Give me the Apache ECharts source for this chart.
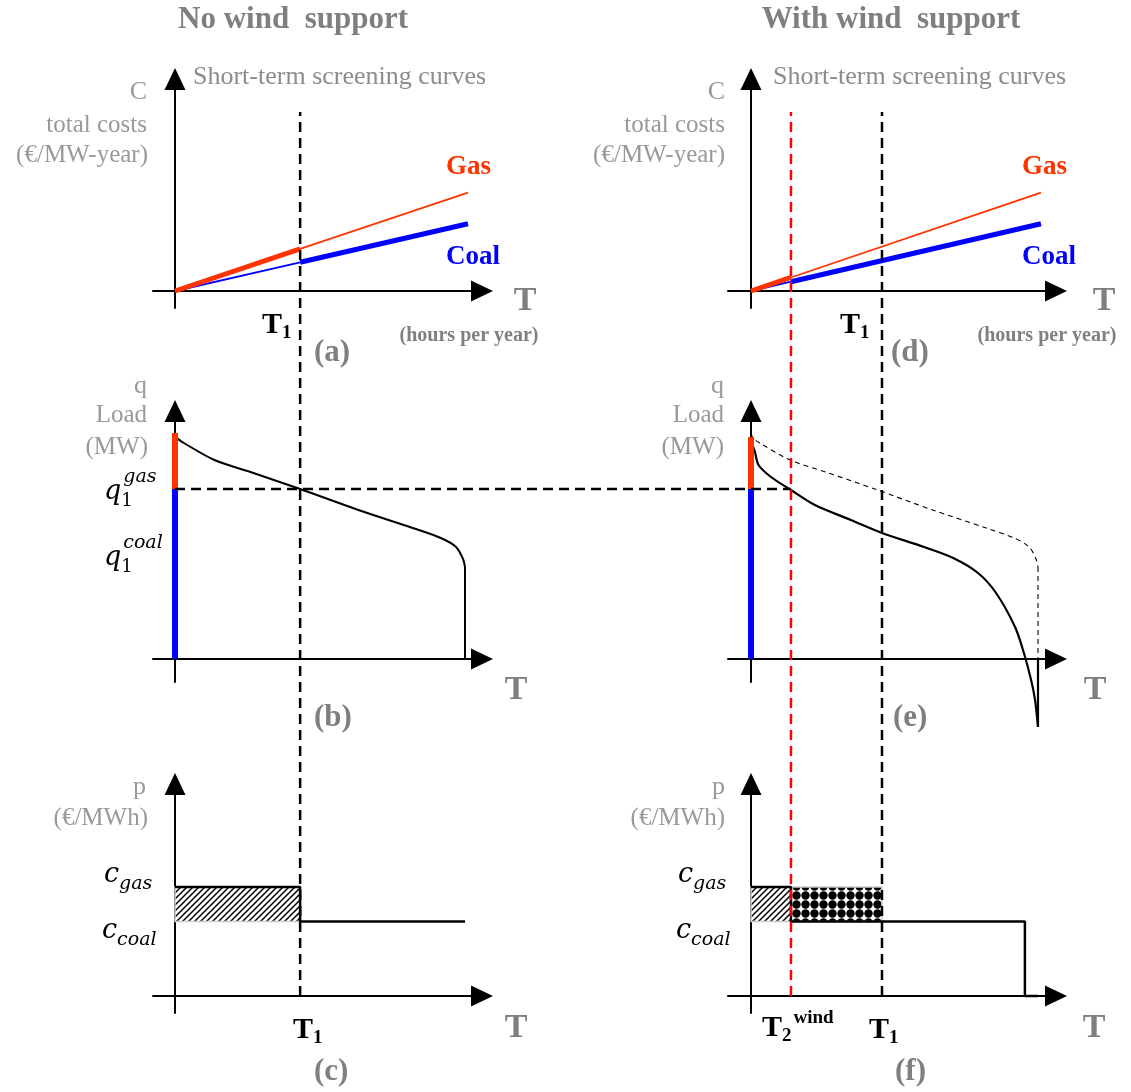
<!DOCTYPE html>
<html>
<head>
<meta charset="utf-8">
<script src="https://cdn.jsdelivr.net/npm/echarts@6/dist/echarts.min.js"></script>
<style>
  html, body { margin: 0; padding: 0; background: #fff; }
  #chart { width: 1131px; height: 1092px; }
</style>
</head>
<body>
<div id="chart"></div>
<script>
// ---------- values ----------
var hoursPerYear = 8760;
var costGas = 60, costCoal = 41;                 // €/MWh
var T1_noWind = 3780, T1_wind = 3998, T2_wind = 1220; // hours
var q1Gas = 8500;                                 // MW
var peakLoadB = 11300, peakLoadE = 11100;

// screening curves, k€/MW-year
var screenHoursA = [0, 3780, 8850];
var gasTotalA = [0, 227, 531];
var coalTotalA = [0, 155, 363];
var screenHoursD = [0, 1220, 8850];
var gasTotalD = [0, 73, 531];
var coalTotalD = [0, 50, 363];

// load duration curve (MW)
var loadHours = [0, 60, 270, 1190, 2280, 3780, 5540, 7180, 8030, 8490, 8700, 8760];
var loadMW = [11300, 11050, 10800, 9950, 9350, 8500, 7450, 6550, 6050, 5600, 5000, 4600];
var loadDropHours = [8760, 8760];
var loadDropMW = [4600, 0];

// net load with wind (MW)
var netHours = [0, 120, 230, 610, 1220, 1950, 3050, 3998, 5280, 6170, 6930, 7480, 8060, 8330, 8550, 8670, 8760];
var netMW = [10900, 10350, 9700, 9100, 8450, 7700, 6950, 6300, 5600, 5050, 4300, 3300, 1600, 300, -1050, -2050, -3400];
var netDropHours = [8760, 8760];
var netDropMW = [-3400, 0];

// price duration curves (€/MWh)
var priceHoursC = [0, 3780, 3780, 8760];
var priceC = [60, 60, 41, 41];
var priceHoursF = [0, 1220, 1220, 8360, 8360, 8760];
var priceF = [60, 60, 41, 41, 0, 0];

// ---------- layout (pixels) ----------
var cols = [
  { start: 153, origin: 175, end: 482, hoursPerPx: hoursPerYear / 290 },
  { start: 728, origin: 751, end: 1056, hoursPerPx: hoursPerYear / 287 }
];
var rows = [
  { top: 79, origin: 291, bottom: 308, perPx: 5.4 },
  { top: 411, origin: 659, bottom: 682, perPx: 50 },
  { top: 784, origin: 996, bottom: 1013, perPx: 0.55 }
];
var vTop = 112, vBottom = 996;

var SERIF = '"Liberation Serif", "Times New Roman", serif';
var MATH = '"DejaVu Serif", serif';
var GAS = '#ff3300', COAL = '#0000ff';

function zip(xs, ys) {
  return xs.map(function (x, i) { return [x, ys[i]]; });
}

var chart = echarts.init(document.getElementById('chart'));

var grids = [], xAxes = [], yAxes = [], series = [];

function addGrid(left, top, right, bottom, xr, yr, showAxes) {
  var i = grids.length;
  grids.push({ left: left, top: top, width: right - left, height: bottom - top, outerBoundsMode: 'none' });
  var line = {
    show: showAxes, onZero: true, symbol: ['none', 'triangle'], symbolSize: [21, 22],
    lineStyle: { color: '#000', width: 2 }
  };
  xAxes.push({ type: 'value', gridIndex: i, min: xr[0], max: xr[1], show: showAxes,
    axisLine: line, axisTick: { show: false }, axisLabel: { show: false }, splitLine: { show: false } });
  yAxes.push({ type: 'value', gridIndex: i, min: yr[0], max: yr[1], show: showAxes,
    axisLine: line, axisTick: { show: false }, axisLabel: { show: false }, splitLine: { show: false } });
  return i;
}

function panel(c, r) {
  var col = cols[c], row = rows[r];
  return addGrid(col.start, row.top, col.end, row.bottom,
    [-(col.origin - col.start) * col.hoursPerPx, (col.end - col.origin) * col.hoursPerPx],
    [-(row.bottom - row.origin) * row.perPx, (row.origin - row.top) * row.perPx], true);
}

function line(gi, data, color, width, extra) {
  var s = { type: 'line', xAxisIndex: gi, yAxisIndex: gi, data: data, symbol: 'none',
    silent: true, animation: false, lineStyle: { color: color, width: width }, z: 3 };
  for (var k in extra) s[k] = extra[k];
  if (extra && extra.dash) { s.lineStyle.type = extra.dash; delete s.dash; }
  return s;
}

// patterns
function makeHatch() {
  var c = document.createElement('canvas'); c.width = 6; c.height = 6;
  var g = c.getContext('2d');
  g.fillStyle = '#fff'; g.fillRect(0, 0, 6, 6);
  g.strokeStyle = '#000'; g.lineWidth = 1.5;
  g.beginPath();
  g.moveTo(0, 6); g.lineTo(6, 0);
  g.moveTo(-1, 1); g.lineTo(1, -1);
  g.moveTo(5, 7); g.lineTo(7, 5);
  g.stroke();
  return c;
}
function makeDots() {
  var c = document.createElement('canvas'); c.width = 9; c.height = 9;
  var g = c.getContext('2d');
  g.fillStyle = '#fff'; g.fillRect(0, 0, 9, 9);
  g.fillStyle = '#000';
  g.beginPath(); g.arc(4.5, 4.5, 4.2, 0, Math.PI * 2); g.fill();
  return c;
}
var hatchFill = { image: makeHatch(), repeat: 'repeat' };
var dotFill = { image: makeDots(), repeat: 'repeat' };

function rect(gi, data, fill) {
  return {
    type: 'custom', xAxisIndex: gi, yAxisIndex: gi, data: data, silent: true, z: 1,
    renderItem: function (params, api) {
      var a = api.coord([api.value(0), api.value(3)]);
      var b = api.coord([api.value(1), api.value(2)]);
      return { type: 'rect', shape: { x: a[0], y: a[1], width: b[0] - a[0], height: b[1] - a[1] },
        style: { fill: fill, stroke: '#cccccc', lineWidth: 1.5 } };
    }
  };
}

// ---------- panels ----------
var gA = panel(0, 0), gB = panel(0, 1), gC = panel(0, 2);
var gD = panel(1, 0), gE = panel(1, 1), gF = panel(1, 2);

// (a) screening curves, no wind
series.push(line(gA, zip(screenHoursA, coalTotalA).slice(0, 2), COAL, 1.8));
series.push(line(gA, zip(screenHoursA, gasTotalA), GAS, 1.8));
series.push(line(gA, zip(screenHoursA, coalTotalA).slice(1), COAL, 5));
series.push(line(gA, zip(screenHoursA, gasTotalA).slice(0, 2), GAS, 5));

// (d) screening curves, with wind
series.push(line(gD, zip(screenHoursD, coalTotalD).slice(0, 2), COAL, 1.8));
series.push(line(gD, zip(screenHoursD, gasTotalD), GAS, 1.8));
series.push(line(gD, zip(screenHoursD, coalTotalD).slice(1), COAL, 5));
series.push(line(gD, zip(screenHoursD, gasTotalD).slice(0, 2), GAS, 5));

// (b) load duration curve
series.push(line(gB, [[0, 0], [0, q1Gas]], COAL, 6, { z: 4 }));
series.push(line(gB, [[0, q1Gas], [0, peakLoadB]], GAS, 6, { z: 4 }));
series.push(line(gB, zip(loadHours, loadMW), '#000', 2, { smooth: 0.3 }));
series.push(line(gB, zip(loadDropHours, loadDropMW), '#000', 2));

// (e) net load duration curve
series.push(line(gE, [[0, 0], [0, q1Gas]], COAL, 6, { z: 4 }));
series.push(line(gE, [[0, q1Gas], [0, peakLoadE]], GAS, 6, { z: 4 }));
series.push(line(gE, zip(loadHours, loadMW), '#000', 1.1, { smooth: 0.3, dash: [5, 4] }));
series.push(line(gE, zip(loadDropHours, loadDropMW), '#000', 1.1, { dash: [5, 4] }));
series.push(line(gE, zip(netHours, netMW), '#000', 2.2, { smooth: 0.3, clip: false }));
series.push(line(gE, zip(netDropHours, netDropMW), '#000', 2.2, { clip: false }));

// (c) price duration curve, no wind
series.push(rect(gC, [[0, T1_noWind, costCoal, costGas]], hatchFill));
series.push(line(gC, zip(priceHoursC, priceC), '#000', 2.5));

// (f) price duration curve, with wind
series.push(rect(gF, [[0, T2_wind, costCoal, costGas]], hatchFill));
series.push(rect(gF, [[T2_wind, T1_wind, costCoal, costGas]], dotFill));
series.push(line(gF, zip(priceHoursF, priceF), '#000', 2.5));

// ---------- long dashed guides ----------
var gLV = addGrid(cols[0].start, vTop, cols[0].end, vBottom,
  [-(cols[0].origin - cols[0].start) * cols[0].hoursPerPx, (cols[0].end - cols[0].origin) * cols[0].hoursPerPx], [0, 1], false);
var gRV = addGrid(cols[1].start, vTop, cols[1].end, vBottom,
  [-(cols[1].origin - cols[1].start) * cols[1].hoursPerPx, (cols[1].end - cols[1].origin) * cols[1].hoursPerPx], [0, 1], false);
var linkMin = -(cols[1].origin - cols[0].origin) * cols[1].hoursPerPx;
var gLink = addGrid(cols[0].origin, rows[1].top, cols[1].end, rows[1].bottom,
  [linkMin, (cols[1].end - cols[1].origin) * cols[1].hoursPerPx],
  [-(rows[1].bottom - rows[1].origin) * rows[1].perPx, (rows[1].origin - rows[1].top) * rows[1].perPx], false);

series.push(line(gLV, [[T1_noWind, 0], [T1_noWind, 1]], '#000', 2.5, { dash: [10, 6], z: 5 }));
series.push(line(gRV, [[T1_wind, 0], [T1_wind, 1]], '#000', 2.5, { dash: [10, 6], z: 5 }));
series.push(line(gRV, [[T2_wind, 0], [T2_wind, 1]], '#ff0000', 2.5, { dash: [10, 6], z: 5 }));
series.push(line(gLink, [[linkMin, q1Gas], [T2_wind, q1Gas]], '#000', 2.5, { dash: [10, 6], z: 5 }));

// ---------- text ----------
var mctx = document.createElement('canvas').getContext('2d');
function textWidth(s, font) { mctx.font = font; return mctx.measureText(s).width; }
function label(x, y, s, font, color, align) {
  return { type: 'text', x: x, y: y, silent: true, z: 100,
    style: { text: s, font: font, fill: color || '#000',
      align: align || 'left', verticalAlign: 'middle',
      textAlign: align || 'left', textVerticalAlign: 'middle' } };
}
function scripted(x, y, base, baseFont, parts, color) {
  var els = [label(x, y, base, baseFont, color)];
  var cx = x + textWidth(base, baseFont), last = cx;
  parts.forEach(function (p) {
    var px = p.stack ? last : cx;
    els.push(label(px + (p.dx || 0), y + p.dy, p.t, p.font, color));
    last = px;
    cx = Math.max(cx, px + (p.dx || 0) + textWidth(p.t, p.font));
  });
  return els;
}

var TITLE = 'bold 31px ' + SERIF, AX = '25px ' + SERIF, BIGT = 'bold 34px ' + SERIF;
var TB = 'bold 30px ' + SERIF, TS = 'bold 19px ' + SERIF, TAG = 'bold 31px ' + SERIF;
var GREY = '#7f7f7f', LGREY = '#999999';
var MB = 'italic 27px ' + MATH, MS = 'italic 19px ' + MATH, MN = '18px ' + MATH;

var texts = [
  label(293, 20, 'No wind  support', TITLE, GREY, 'center'),
  label(891, 20, 'With wind  support', TITLE, GREY, 'center'),

  label(193, 77, 'Short-term screening curves', '26px ' + SERIF, '#8c8c8c'),
  label(773, 77, 'Short-term screening curves', '26px ' + SERIF, '#8c8c8c'),
  label(147, 92, 'C', '26px ' + SERIF, LGREY, 'right'),
  label(147, 125, 'total costs', AX, LGREY, 'right'),
  label(148, 155, '(€/MW-year)', AX, LGREY, 'right'),
  label(725, 92, 'C', '26px ' + SERIF, LGREY, 'right'),
  label(725, 125, 'total costs', AX, LGREY, 'right'),
  label(725, 155, '(€/MW-year)', AX, LGREY, 'right'),
  label(446, 167, 'Gas', 'bold 27px ' + SERIF, GAS),
  label(446, 257, 'Coal', 'bold 27px ' + SERIF, COAL),
  label(1022, 167, 'Gas', 'bold 27px ' + SERIF, GAS),
  label(1022, 257, 'Coal', 'bold 27px ' + SERIF, COAL),
  label(525, 301, 'T', BIGT, GREY, 'center'),
  label(1104, 301, 'T', BIGT, GREY, 'center'),
  label(469, 336, '(hours per year)', 'bold 20px ' + SERIF, GREY, 'center'),
  label(1047, 336, '(hours per year)', 'bold 20px ' + SERIF, GREY, 'center'),
  label(314, 353, '(a)', TAG, GREY),
  label(891, 353, '(d)', TAG, GREY),

  label(147, 386, 'q', '26px ' + SERIF, LGREY, 'right'),
  label(147, 415, 'Load', AX, LGREY, 'right'),
  label(148, 447, '(MW)', AX, LGREY, 'right'),
  label(724, 386, 'q', '26px ' + SERIF, LGREY, 'right'),
  label(724, 415, 'Load', AX, LGREY, 'right'),
  label(724, 447, '(MW)', AX, LGREY, 'right'),
  label(516, 690, 'T', BIGT, GREY, 'center'),
  label(1095, 690, 'T', BIGT, GREY, 'center'),
  label(314, 718, '(b)', TAG, GREY),
  label(893, 718, '(e)', TAG, GREY),

  label(146, 787, 'p', '26px ' + SERIF, LGREY, 'right'),
  label(148, 818, '(€/MWh)', AX, LGREY, 'right'),
  label(725, 787, 'p', '26px ' + SERIF, LGREY, 'right'),
  label(725, 818, '(€/MWh)', AX, LGREY, 'right'),
  label(516, 1028, 'T', BIGT, GREY, 'center'),
  label(1094, 1028, 'T', BIGT, GREY, 'center'),
  label(314, 1072, '(c)', TAG, GREY),
  label(895, 1072, '(f)', TAG, GREY)
];

texts = texts
  .concat(scripted(262, 325, 'T', TB, [{ t: '1', font: TS, dy: 8 }]))
  .concat(scripted(840, 325, 'T', TB, [{ t: '1', font: TS, dy: 8 }]))
  .concat(scripted(293, 1030, 'T', TB, [{ t: '1', font: TS, dy: 8 }]))
  .concat(scripted(869, 1030, 'T', TB, [{ t: '1', font: TS, dy: 8 }]))
  .concat(scripted(762, 1028, 'T', TB, [{ t: '2', font: TS, dy: 8 }, { t: 'wind', font: TS, dy: -10, dx: 2 }]))
  .concat(scripted(104, 492, 'q', MB, [{ t: '1', font: MN, dy: 9 }, { t: 'gas', font: MS, dy: -15, stack: true, dx: 2 }]))
  .concat(scripted(104, 558, 'q', MB, [{ t: '1', font: MN, dy: 9 }, { t: 'coal', font: MS, dy: -15, stack: true, dx: 2 }]))
  .concat(scripted(104, 875, 'c', MB, [{ t: 'gas', font: MS, dy: 9 }]))
  .concat(scripted(102, 931, 'c', MB, [{ t: 'coal', font: MS, dy: 9 }]))
  .concat(scripted(678, 875, 'c', MB, [{ t: 'gas', font: MS, dy: 9 }]))
  .concat(scripted(676, 931, 'c', MB, [{ t: 'coal', font: MS, dy: 9 }]));

chart.setOption({
  animation: false,
  backgroundColor: '#fff',
  grid: grids,
  xAxis: xAxes,
  yAxis: yAxes,
  series: series,
  graphic: { elements: texts }
});
</script>
</body>
</html>
